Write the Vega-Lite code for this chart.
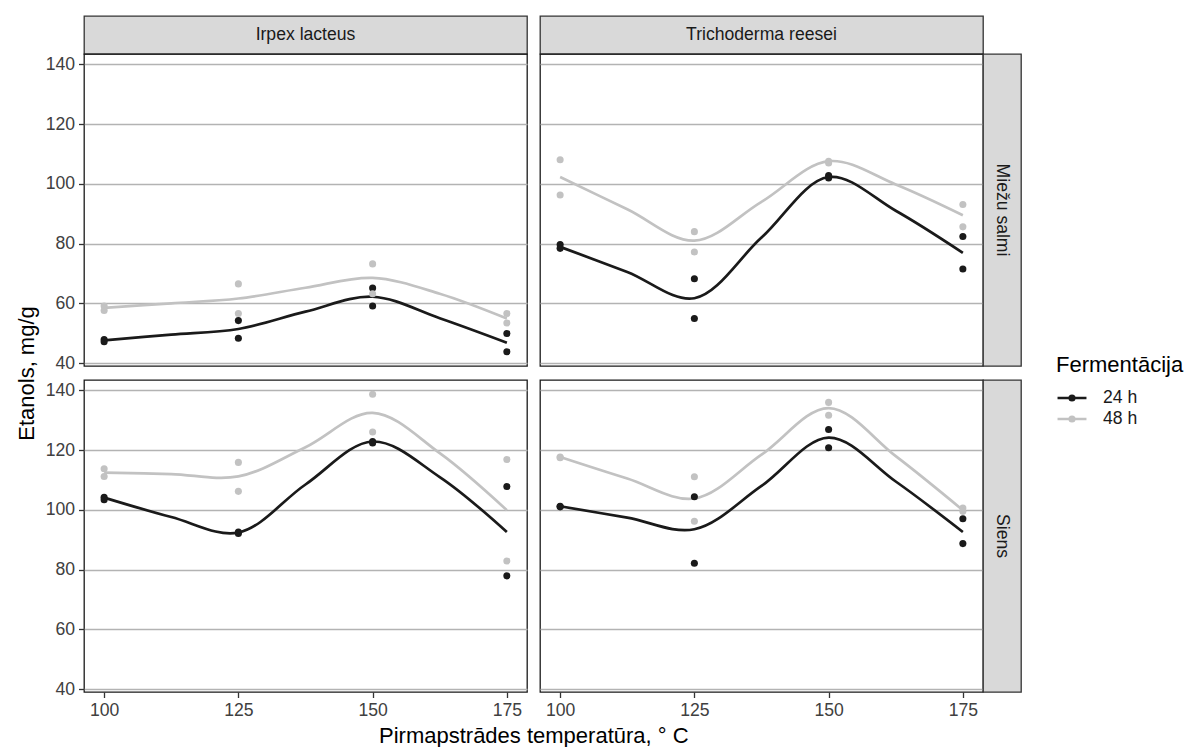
{
  "$schema": "https://vega.github.io/schema/vega-lite/v6.json",
  "padding": {"left": 14, "top": 15, "right": 0, "bottom": 0},
  "datasets": {
    "pts": [
      {"fungus":"Irpex lacteus","substrate":"Miežu salmi","time":"24 h","temp":100,"ethanol":47.9},
      {"fungus":"Irpex lacteus","substrate":"Miežu salmi","time":"24 h","temp":100,"ethanol":47.1},
      {"fungus":"Irpex lacteus","substrate":"Miežu salmi","time":"24 h","temp":125,"ethanol":54.2},
      {"fungus":"Irpex lacteus","substrate":"Miežu salmi","time":"24 h","temp":125,"ethanol":48.3},
      {"fungus":"Irpex lacteus","substrate":"Miežu salmi","time":"24 h","temp":150,"ethanol":65.1},
      {"fungus":"Irpex lacteus","substrate":"Miežu salmi","time":"24 h","temp":150,"ethanol":59.1},
      {"fungus":"Irpex lacteus","substrate":"Miežu salmi","time":"24 h","temp":175,"ethanol":49.9},
      {"fungus":"Irpex lacteus","substrate":"Miežu salmi","time":"24 h","temp":175,"ethanol":43.8},
      {"fungus":"Irpex lacteus","substrate":"Miežu salmi","time":"48 h","temp":100,"ethanol":59.1},
      {"fungus":"Irpex lacteus","substrate":"Miežu salmi","time":"48 h","temp":100,"ethanol":57.6},
      {"fungus":"Irpex lacteus","substrate":"Miežu salmi","time":"48 h","temp":125,"ethanol":66.5},
      {"fungus":"Irpex lacteus","substrate":"Miežu salmi","time":"48 h","temp":125,"ethanol":56.6},
      {"fungus":"Irpex lacteus","substrate":"Miežu salmi","time":"48 h","temp":150,"ethanol":73.2},
      {"fungus":"Irpex lacteus","substrate":"Miežu salmi","time":"48 h","temp":150,"ethanol":63.2},
      {"fungus":"Irpex lacteus","substrate":"Miežu salmi","time":"48 h","temp":175,"ethanol":56.6},
      {"fungus":"Irpex lacteus","substrate":"Miežu salmi","time":"48 h","temp":175,"ethanol":53.4},
      {"fungus":"Trichoderma reesei","substrate":"Miežu salmi","time":"24 h","temp":100,"ethanol":79.7},
      {"fungus":"Trichoderma reesei","substrate":"Miežu salmi","time":"24 h","temp":100,"ethanol":78.4},
      {"fungus":"Trichoderma reesei","substrate":"Miežu salmi","time":"24 h","temp":125,"ethanol":68.2},
      {"fungus":"Trichoderma reesei","substrate":"Miežu salmi","time":"24 h","temp":125,"ethanol":54.9},
      {"fungus":"Trichoderma reesei","substrate":"Miežu salmi","time":"24 h","temp":150,"ethanol":102.8},
      {"fungus":"Trichoderma reesei","substrate":"Miežu salmi","time":"24 h","temp":150,"ethanol":102.0},
      {"fungus":"Trichoderma reesei","substrate":"Miežu salmi","time":"24 h","temp":175,"ethanol":82.4},
      {"fungus":"Trichoderma reesei","substrate":"Miežu salmi","time":"24 h","temp":175,"ethanol":71.5},
      {"fungus":"Trichoderma reesei","substrate":"Miežu salmi","time":"48 h","temp":100,"ethanol":108.1},
      {"fungus":"Trichoderma reesei","substrate":"Miežu salmi","time":"48 h","temp":100,"ethanol":96.3},
      {"fungus":"Trichoderma reesei","substrate":"Miežu salmi","time":"48 h","temp":125,"ethanol":84.0},
      {"fungus":"Trichoderma reesei","substrate":"Miežu salmi","time":"48 h","temp":125,"ethanol":77.2},
      {"fungus":"Trichoderma reesei","substrate":"Miežu salmi","time":"48 h","temp":150,"ethanol":107.6},
      {"fungus":"Trichoderma reesei","substrate":"Miežu salmi","time":"48 h","temp":150,"ethanol":107.0},
      {"fungus":"Trichoderma reesei","substrate":"Miežu salmi","time":"48 h","temp":175,"ethanol":93.1},
      {"fungus":"Trichoderma reesei","substrate":"Miežu salmi","time":"48 h","temp":175,"ethanol":85.6},
      {"fungus":"Irpex lacteus","substrate":"Siens","time":"24 h","temp":100,"ethanol":104.2},
      {"fungus":"Irpex lacteus","substrate":"Siens","time":"24 h","temp":100,"ethanol":103.4},
      {"fungus":"Irpex lacteus","substrate":"Siens","time":"24 h","temp":125,"ethanol":92.6},
      {"fungus":"Irpex lacteus","substrate":"Siens","time":"24 h","temp":125,"ethanol":92.1},
      {"fungus":"Irpex lacteus","substrate":"Siens","time":"24 h","temp":150,"ethanol":122.9},
      {"fungus":"Irpex lacteus","substrate":"Siens","time":"24 h","temp":150,"ethanol":122.4},
      {"fungus":"Irpex lacteus","substrate":"Siens","time":"24 h","temp":175,"ethanol":107.8},
      {"fungus":"Irpex lacteus","substrate":"Siens","time":"24 h","temp":175,"ethanol":77.9},
      {"fungus":"Irpex lacteus","substrate":"Siens","time":"48 h","temp":100,"ethanol":113.8},
      {"fungus":"Irpex lacteus","substrate":"Siens","time":"48 h","temp":100,"ethanol":111.2},
      {"fungus":"Irpex lacteus","substrate":"Siens","time":"48 h","temp":125,"ethanol":115.9},
      {"fungus":"Irpex lacteus","substrate":"Siens","time":"48 h","temp":125,"ethanol":106.2},
      {"fungus":"Irpex lacteus","substrate":"Siens","time":"48 h","temp":150,"ethanol":138.7},
      {"fungus":"Irpex lacteus","substrate":"Siens","time":"48 h","temp":150,"ethanol":126.1},
      {"fungus":"Irpex lacteus","substrate":"Siens","time":"48 h","temp":175,"ethanol":116.9},
      {"fungus":"Irpex lacteus","substrate":"Siens","time":"48 h","temp":175,"ethanol":82.9},
      {"fungus":"Trichoderma reesei","substrate":"Siens","time":"24 h","temp":100,"ethanol":101.2},
      {"fungus":"Trichoderma reesei","substrate":"Siens","time":"24 h","temp":100,"ethanol":101.0},
      {"fungus":"Trichoderma reesei","substrate":"Siens","time":"24 h","temp":125,"ethanol":104.4},
      {"fungus":"Trichoderma reesei","substrate":"Siens","time":"24 h","temp":125,"ethanol":82.1},
      {"fungus":"Trichoderma reesei","substrate":"Siens","time":"24 h","temp":150,"ethanol":126.9},
      {"fungus":"Trichoderma reesei","substrate":"Siens","time":"24 h","temp":150,"ethanol":120.8},
      {"fungus":"Trichoderma reesei","substrate":"Siens","time":"24 h","temp":175,"ethanol":97.0},
      {"fungus":"Trichoderma reesei","substrate":"Siens","time":"24 h","temp":175,"ethanol":88.7},
      {"fungus":"Trichoderma reesei","substrate":"Siens","time":"48 h","temp":100,"ethanol":117.7},
      {"fungus":"Trichoderma reesei","substrate":"Siens","time":"48 h","temp":100,"ethanol":117.5},
      {"fungus":"Trichoderma reesei","substrate":"Siens","time":"48 h","temp":125,"ethanol":111.1},
      {"fungus":"Trichoderma reesei","substrate":"Siens","time":"48 h","temp":125,"ethanol":96.2},
      {"fungus":"Trichoderma reesei","substrate":"Siens","time":"48 h","temp":150,"ethanol":136.0},
      {"fungus":"Trichoderma reesei","substrate":"Siens","time":"48 h","temp":150,"ethanol":131.7},
      {"fungus":"Trichoderma reesei","substrate":"Siens","time":"48 h","temp":175,"ethanol":100.6},
      {"fungus":"Trichoderma reesei","substrate":"Siens","time":"48 h","temp":175,"ethanol":99.5}
    ],
    "fit": [
      {"fungus":"Irpex lacteus","substrate":"Miežu salmi","time":"24 h","temp":100,"ethanol":47.6},
      {"fungus":"Irpex lacteus","substrate":"Miežu salmi","time":"24 h","temp":112.5,"ethanol":49.5},
      {"fungus":"Irpex lacteus","substrate":"Miežu salmi","time":"24 h","temp":125,"ethanol":51.4},
      {"fungus":"Irpex lacteus","substrate":"Miežu salmi","time":"24 h","temp":137.5,"ethanol":57.2},
      {"fungus":"Irpex lacteus","substrate":"Miežu salmi","time":"24 h","temp":150,"ethanol":62.2},
      {"fungus":"Irpex lacteus","substrate":"Miežu salmi","time":"24 h","temp":162.5,"ethanol":55.0},
      {"fungus":"Irpex lacteus","substrate":"Miežu salmi","time":"24 h","temp":175,"ethanol":46.8},
      {"fungus":"Irpex lacteus","substrate":"Miežu salmi","time":"48 h","temp":100,"ethanol":58.5},
      {"fungus":"Irpex lacteus","substrate":"Miežu salmi","time":"48 h","temp":112.5,"ethanol":60.0},
      {"fungus":"Irpex lacteus","substrate":"Miežu salmi","time":"48 h","temp":125,"ethanol":61.6},
      {"fungus":"Irpex lacteus","substrate":"Miežu salmi","time":"48 h","temp":137.5,"ethanol":65.2},
      {"fungus":"Irpex lacteus","substrate":"Miežu salmi","time":"48 h","temp":150,"ethanol":68.5},
      {"fungus":"Irpex lacteus","substrate":"Miežu salmi","time":"48 h","temp":162.5,"ethanol":63.2},
      {"fungus":"Irpex lacteus","substrate":"Miežu salmi","time":"48 h","temp":175,"ethanol":54.9},
      {"fungus":"Trichoderma reesei","substrate":"Miežu salmi","time":"24 h","temp":100,"ethanol":78.9},
      {"fungus":"Trichoderma reesei","substrate":"Miežu salmi","time":"24 h","temp":112.5,"ethanol":70.5},
      {"fungus":"Trichoderma reesei","substrate":"Miežu salmi","time":"24 h","temp":125,"ethanol":61.7},
      {"fungus":"Trichoderma reesei","substrate":"Miežu salmi","time":"24 h","temp":137.5,"ethanol":82.0},
      {"fungus":"Trichoderma reesei","substrate":"Miežu salmi","time":"24 h","temp":150,"ethanol":102.3},
      {"fungus":"Trichoderma reesei","substrate":"Miežu salmi","time":"24 h","temp":162.5,"ethanol":91.0},
      {"fungus":"Trichoderma reesei","substrate":"Miežu salmi","time":"24 h","temp":175,"ethanol":76.9},
      {"fungus":"Trichoderma reesei","substrate":"Miežu salmi","time":"48 h","temp":100,"ethanol":102.3},
      {"fungus":"Trichoderma reesei","substrate":"Miežu salmi","time":"48 h","temp":112.5,"ethanol":91.5},
      {"fungus":"Trichoderma reesei","substrate":"Miežu salmi","time":"48 h","temp":125,"ethanol":81.0},
      {"fungus":"Trichoderma reesei","substrate":"Miežu salmi","time":"48 h","temp":137.5,"ethanol":94.0},
      {"fungus":"Trichoderma reesei","substrate":"Miežu salmi","time":"48 h","temp":150,"ethanol":107.6},
      {"fungus":"Trichoderma reesei","substrate":"Miežu salmi","time":"48 h","temp":162.5,"ethanol":99.8},
      {"fungus":"Trichoderma reesei","substrate":"Miežu salmi","time":"48 h","temp":175,"ethanol":89.5},
      {"fungus":"Irpex lacteus","substrate":"Siens","time":"24 h","temp":100,"ethanol":104.1},
      {"fungus":"Irpex lacteus","substrate":"Siens","time":"24 h","temp":112.5,"ethanol":97.6},
      {"fungus":"Irpex lacteus","substrate":"Siens","time":"24 h","temp":125,"ethanol":92.4},
      {"fungus":"Irpex lacteus","substrate":"Siens","time":"24 h","temp":137.5,"ethanol":108.5},
      {"fungus":"Irpex lacteus","substrate":"Siens","time":"24 h","temp":150,"ethanol":122.9},
      {"fungus":"Irpex lacteus","substrate":"Siens","time":"24 h","temp":162.5,"ethanol":111.0},
      {"fungus":"Irpex lacteus","substrate":"Siens","time":"24 h","temp":175,"ethanol":92.6},
      {"fungus":"Irpex lacteus","substrate":"Siens","time":"48 h","temp":100,"ethanol":112.5},
      {"fungus":"Irpex lacteus","substrate":"Siens","time":"48 h","temp":112.5,"ethanol":112.0},
      {"fungus":"Irpex lacteus","substrate":"Siens","time":"48 h","temp":125,"ethanol":111.2},
      {"fungus":"Irpex lacteus","substrate":"Siens","time":"48 h","temp":137.5,"ethanol":121.0},
      {"fungus":"Irpex lacteus","substrate":"Siens","time":"48 h","temp":150,"ethanol":132.5},
      {"fungus":"Irpex lacteus","substrate":"Siens","time":"48 h","temp":162.5,"ethanol":119.0},
      {"fungus":"Irpex lacteus","substrate":"Siens","time":"48 h","temp":175,"ethanol":99.9},
      {"fungus":"Trichoderma reesei","substrate":"Siens","time":"24 h","temp":100,"ethanol":101.2},
      {"fungus":"Trichoderma reesei","substrate":"Siens","time":"24 h","temp":112.5,"ethanol":97.4},
      {"fungus":"Trichoderma reesei","substrate":"Siens","time":"24 h","temp":125,"ethanol":93.5},
      {"fungus":"Trichoderma reesei","substrate":"Siens","time":"24 h","temp":137.5,"ethanol":108.0},
      {"fungus":"Trichoderma reesei","substrate":"Siens","time":"24 h","temp":150,"ethanol":124.2},
      {"fungus":"Trichoderma reesei","substrate":"Siens","time":"24 h","temp":162.5,"ethanol":109.5},
      {"fungus":"Trichoderma reesei","substrate":"Siens","time":"24 h","temp":175,"ethanol":92.6},
      {"fungus":"Trichoderma reesei","substrate":"Siens","time":"48 h","temp":100,"ethanol":117.7},
      {"fungus":"Trichoderma reesei","substrate":"Siens","time":"48 h","temp":112.5,"ethanol":110.5},
      {"fungus":"Trichoderma reesei","substrate":"Siens","time":"48 h","temp":125,"ethanol":103.8},
      {"fungus":"Trichoderma reesei","substrate":"Siens","time":"48 h","temp":137.5,"ethanol":118.5},
      {"fungus":"Trichoderma reesei","substrate":"Siens","time":"48 h","temp":150,"ethanol":134.1},
      {"fungus":"Trichoderma reesei","substrate":"Siens","time":"48 h","temp":162.5,"ethanol":118.0},
      {"fungus":"Trichoderma reesei","substrate":"Siens","time":"48 h","temp":175,"ethanol":99.9}
    ]
  },
  "columns": 4,
  "spacing": 0,
  "bounds": "flush",
  "concat": [
    {"width": 443, "height": 38, "data": {"values": [{"label": "Irpex lacteus"}]}, "view": {"fill": "#d9d9d9", "stroke": "#333333", "strokeWidth": 1.3},
     "mark": {"type": "text", "fontSize": 17.6, "color": "#1a1a1a"}, "encoding": {"text": {"field": "label"}}},
    {"width": 13, "height": 38, "data": {"values": [{}]}, "view": {"stroke": "transparent"}, "mark": "text", "encoding": {"text": {"value": ""}}},
    {"width": 443, "height": 38, "data": {"values": [{"label": "Trichoderma reesei"}]}, "view": {"fill": "#d9d9d9", "stroke": "#333333", "strokeWidth": 1.3},
     "mark": {"type": "text", "fontSize": 17.6, "color": "#1a1a1a"}, "encoding": {"text": {"field": "label"}}},
    {"width": 38, "height": 38, "data": {"values": [{}]}, "view": {"stroke": "transparent"}, "mark": "text", "encoding": {"text": {"value": ""}}},

    {"width": 443, "height": 312,
     "layer": [
       {"data": {"name": "fit"}, "transform": [{"filter": "datum.fungus === 'Irpex lacteus' && datum.substrate === 'Miežu salmi'"}],
        "mark": {"type": "line", "interpolate": "catmull-rom", "strokeWidth": 2.7},
        "encoding": {
          "x": {"field": "temp", "type": "quantitative", "scale": {"domain": [96.25, 178.75], "nice": false, "zero": false}, "axis": null},
          "y": {"field": "ethanol", "type": "quantitative", "scale": {"domain": [39.0, 143.5], "nice": false, "zero": false},
                "axis": {"values": [40, 60, 80, 100, 120, 140], "title": "Etanols, mg/g", "titleX": -58, "titleY": 319, "titleAngle": -90, "titleAlign": "center", "titleBaseline": "middle"}},
          "color": {"field": "time", "type": "nominal", "scale": {"domain": ["24 h", "48 h"], "range": ["#1a1a1a", "#c2c2c2"]},
                    "legend": {"title": "Fermentācija", "orient": "none", "legendX": 972, "legendY": 339,
                               "symbolType": "M-1.93,0L1.93,0M-0.3,0A0.3,0.3 0 1,1 0.3,0A0.3,0.3 0 1,1 -0.3,0Z",
                               "symbolSize": 225, "symbolStrokeWidth": 2.7, "symbolOffset": 7, "labelOffset": 22, "titlePadding": 12, "rowPadding": 3,
                               "encode": {"symbols": {"update": {"fill": {"scale": "color", "field": "value"}, "stroke": {"scale": "color", "field": "value"}, "opacity": {"value": 1}}}}}}
        }},
       {"data": {"name": "pts"}, "transform": [{"filter": "datum.fungus === 'Irpex lacteus' && datum.substrate === 'Miežu salmi'"}],
        "mark": {"type": "circle", "size": 50, "opacity": 1},
        "encoding": {
          "x": {"field": "temp", "type": "quantitative"},
          "y": {"field": "ethanol", "type": "quantitative"},
          "color": {"field": "time", "type": "nominal"}
        }}
     ]},
    {"width": 13, "height": 312, "data": {"values": [{}]}, "view": {"stroke": "transparent"}, "mark": "text", "encoding": {"text": {"value": ""}}},
    {"width": 443, "height": 312,
     "layer": [
       {"data": {"name": "fit"}, "transform": [{"filter": "datum.fungus === 'Trichoderma reesei' && datum.substrate === 'Miežu salmi'"}],
        "mark": {"type": "line", "interpolate": "catmull-rom", "strokeWidth": 2.7},
        "encoding": {
          "x": {"field": "temp", "type": "quantitative", "scale": {"domain": [96.25, 178.75], "nice": false, "zero": false}, "axis": null},
          "y": {"field": "ethanol", "type": "quantitative", "scale": {"domain": [39.0, 143.5], "nice": false, "zero": false},
                "axis": {"values": [40, 60, 80, 100, 120, 140], "labels": false, "ticks": false, "title": null}},
          "color": {"field": "time", "type": "nominal"}
        }},
       {"data": {"name": "pts"}, "transform": [{"filter": "datum.fungus === 'Trichoderma reesei' && datum.substrate === 'Miežu salmi'"}],
        "mark": {"type": "circle", "size": 50, "opacity": 1},
        "encoding": {
          "x": {"field": "temp", "type": "quantitative"},
          "y": {"field": "ethanol", "type": "quantitative"},
          "color": {"field": "time", "type": "nominal"}
        }}
     ]},
    {"width": 38, "height": 312, "data": {"values": [{"label": "Miežu salmi"}]}, "view": {"fill": "#d9d9d9", "stroke": "#333333", "strokeWidth": 1.3},
     "mark": {"type": "text", "fontSize": 17.6, "color": "#1a1a1a", "angle": 90}, "encoding": {"text": {"field": "label"}}},

    {"width": 443, "height": 14, "data": {"values": [{}]}, "view": {"stroke": "transparent"}, "mark": "text", "encoding": {"text": {"value": ""}}},
    {"width": 13, "height": 14, "data": {"values": [{}]}, "view": {"stroke": "transparent"}, "mark": "text", "encoding": {"text": {"value": ""}}},
    {"width": 443, "height": 14, "data": {"values": [{}]}, "view": {"stroke": "transparent"}, "mark": "text", "encoding": {"text": {"value": ""}}},
    {"width": 38, "height": 14, "data": {"values": [{}]}, "view": {"stroke": "transparent"}, "mark": "text", "encoding": {"text": {"value": ""}}},

    {"width": 443, "height": 312,
     "layer": [
       {"data": {"name": "fit"}, "transform": [{"filter": "datum.fungus === 'Irpex lacteus' && datum.substrate === 'Siens'"}],
        "mark": {"type": "line", "interpolate": "catmull-rom", "strokeWidth": 2.7},
        "encoding": {
          "x": {"field": "temp", "type": "quantitative", "scale": {"domain": [96.25, 178.75], "nice": false, "zero": false},
                "axis": {"values": [100, 125, 150, 175], "title": "Pirmapstrādes temperatūra, ° C", "titleX": 449.3, "titleY": 50, "titleAlign": "center", "titleBaseline": "alphabetic"}},
          "y": {"field": "ethanol", "type": "quantitative", "scale": {"domain": [39.0, 143.5], "nice": false, "zero": false},
                "axis": {"values": [40, 60, 80, 100, 120, 140], "title": null}},
          "color": {"field": "time", "type": "nominal"}
        }},
       {"data": {"name": "pts"}, "transform": [{"filter": "datum.fungus === 'Irpex lacteus' && datum.substrate === 'Siens'"}],
        "mark": {"type": "circle", "size": 50, "opacity": 1},
        "encoding": {
          "x": {"field": "temp", "type": "quantitative"},
          "y": {"field": "ethanol", "type": "quantitative"},
          "color": {"field": "time", "type": "nominal"}
        }}
     ]},
    {"width": 13, "height": 312, "data": {"values": [{}]}, "view": {"stroke": "transparent"}, "mark": "text", "encoding": {"text": {"value": ""}}},
    {"width": 443, "height": 312,
     "layer": [
       {"data": {"name": "fit"}, "transform": [{"filter": "datum.fungus === 'Trichoderma reesei' && datum.substrate === 'Siens'"}],
        "mark": {"type": "line", "interpolate": "catmull-rom", "strokeWidth": 2.7},
        "encoding": {
          "x": {"field": "temp", "type": "quantitative", "scale": {"domain": [96.25, 178.75], "nice": false, "zero": false},
                "axis": {"values": [100, 125, 150, 175], "title": null}},
          "y": {"field": "ethanol", "type": "quantitative", "scale": {"domain": [39.0, 143.5], "nice": false, "zero": false},
                "axis": {"values": [40, 60, 80, 100, 120, 140], "labels": false, "ticks": false, "title": null}},
          "color": {"field": "time", "type": "nominal"}
        }},
       {"data": {"name": "pts"}, "transform": [{"filter": "datum.fungus === 'Trichoderma reesei' && datum.substrate === 'Siens'"}],
        "mark": {"type": "circle", "size": 50, "opacity": 1},
        "encoding": {
          "x": {"field": "temp", "type": "quantitative"},
          "y": {"field": "ethanol", "type": "quantitative"},
          "color": {"field": "time", "type": "nominal"}
        }}
     ]},
    {"width": 38, "height": 312, "data": {"values": [{"label": "Siens"}]}, "view": {"fill": "#d9d9d9", "stroke": "#333333", "strokeWidth": 1.3},
     "mark": {"type": "text", "fontSize": 17.6, "color": "#1a1a1a", "angle": 90}, "encoding": {"text": {"field": "label"}}}
  ],
  "config": {
    "font": "Liberation Sans",
    "background": "#ffffff",
    "view": {"stroke": "#1a1a1a", "strokeWidth": 1.3},
    "axis": {"grid": true, "gridColor": "#b3b3b3", "gridWidth": 1.5, "domain": false,
             "labelFont": "Liberation Sans", "labelFontSize": 17.6, "labelColor": "#404040", "labelPadding": 4,
             "tickColor": "#333333", "tickSize": 5.5, "tickWidth": 1.3,
             "titleFont": "Liberation Sans", "titleFontSize": 22, "titleFontWeight": "normal", "titleColor": "#000000"},
    "axisX": {"grid": false},
    "legend": {"titleFont": "Liberation Sans", "titleFontSize": 22, "titleFontWeight": "normal", "titleColor": "#000000",
               "labelFont": "Liberation Sans", "labelFontSize": 17.6, "labelColor": "#1a1a1a"}
  }
}
